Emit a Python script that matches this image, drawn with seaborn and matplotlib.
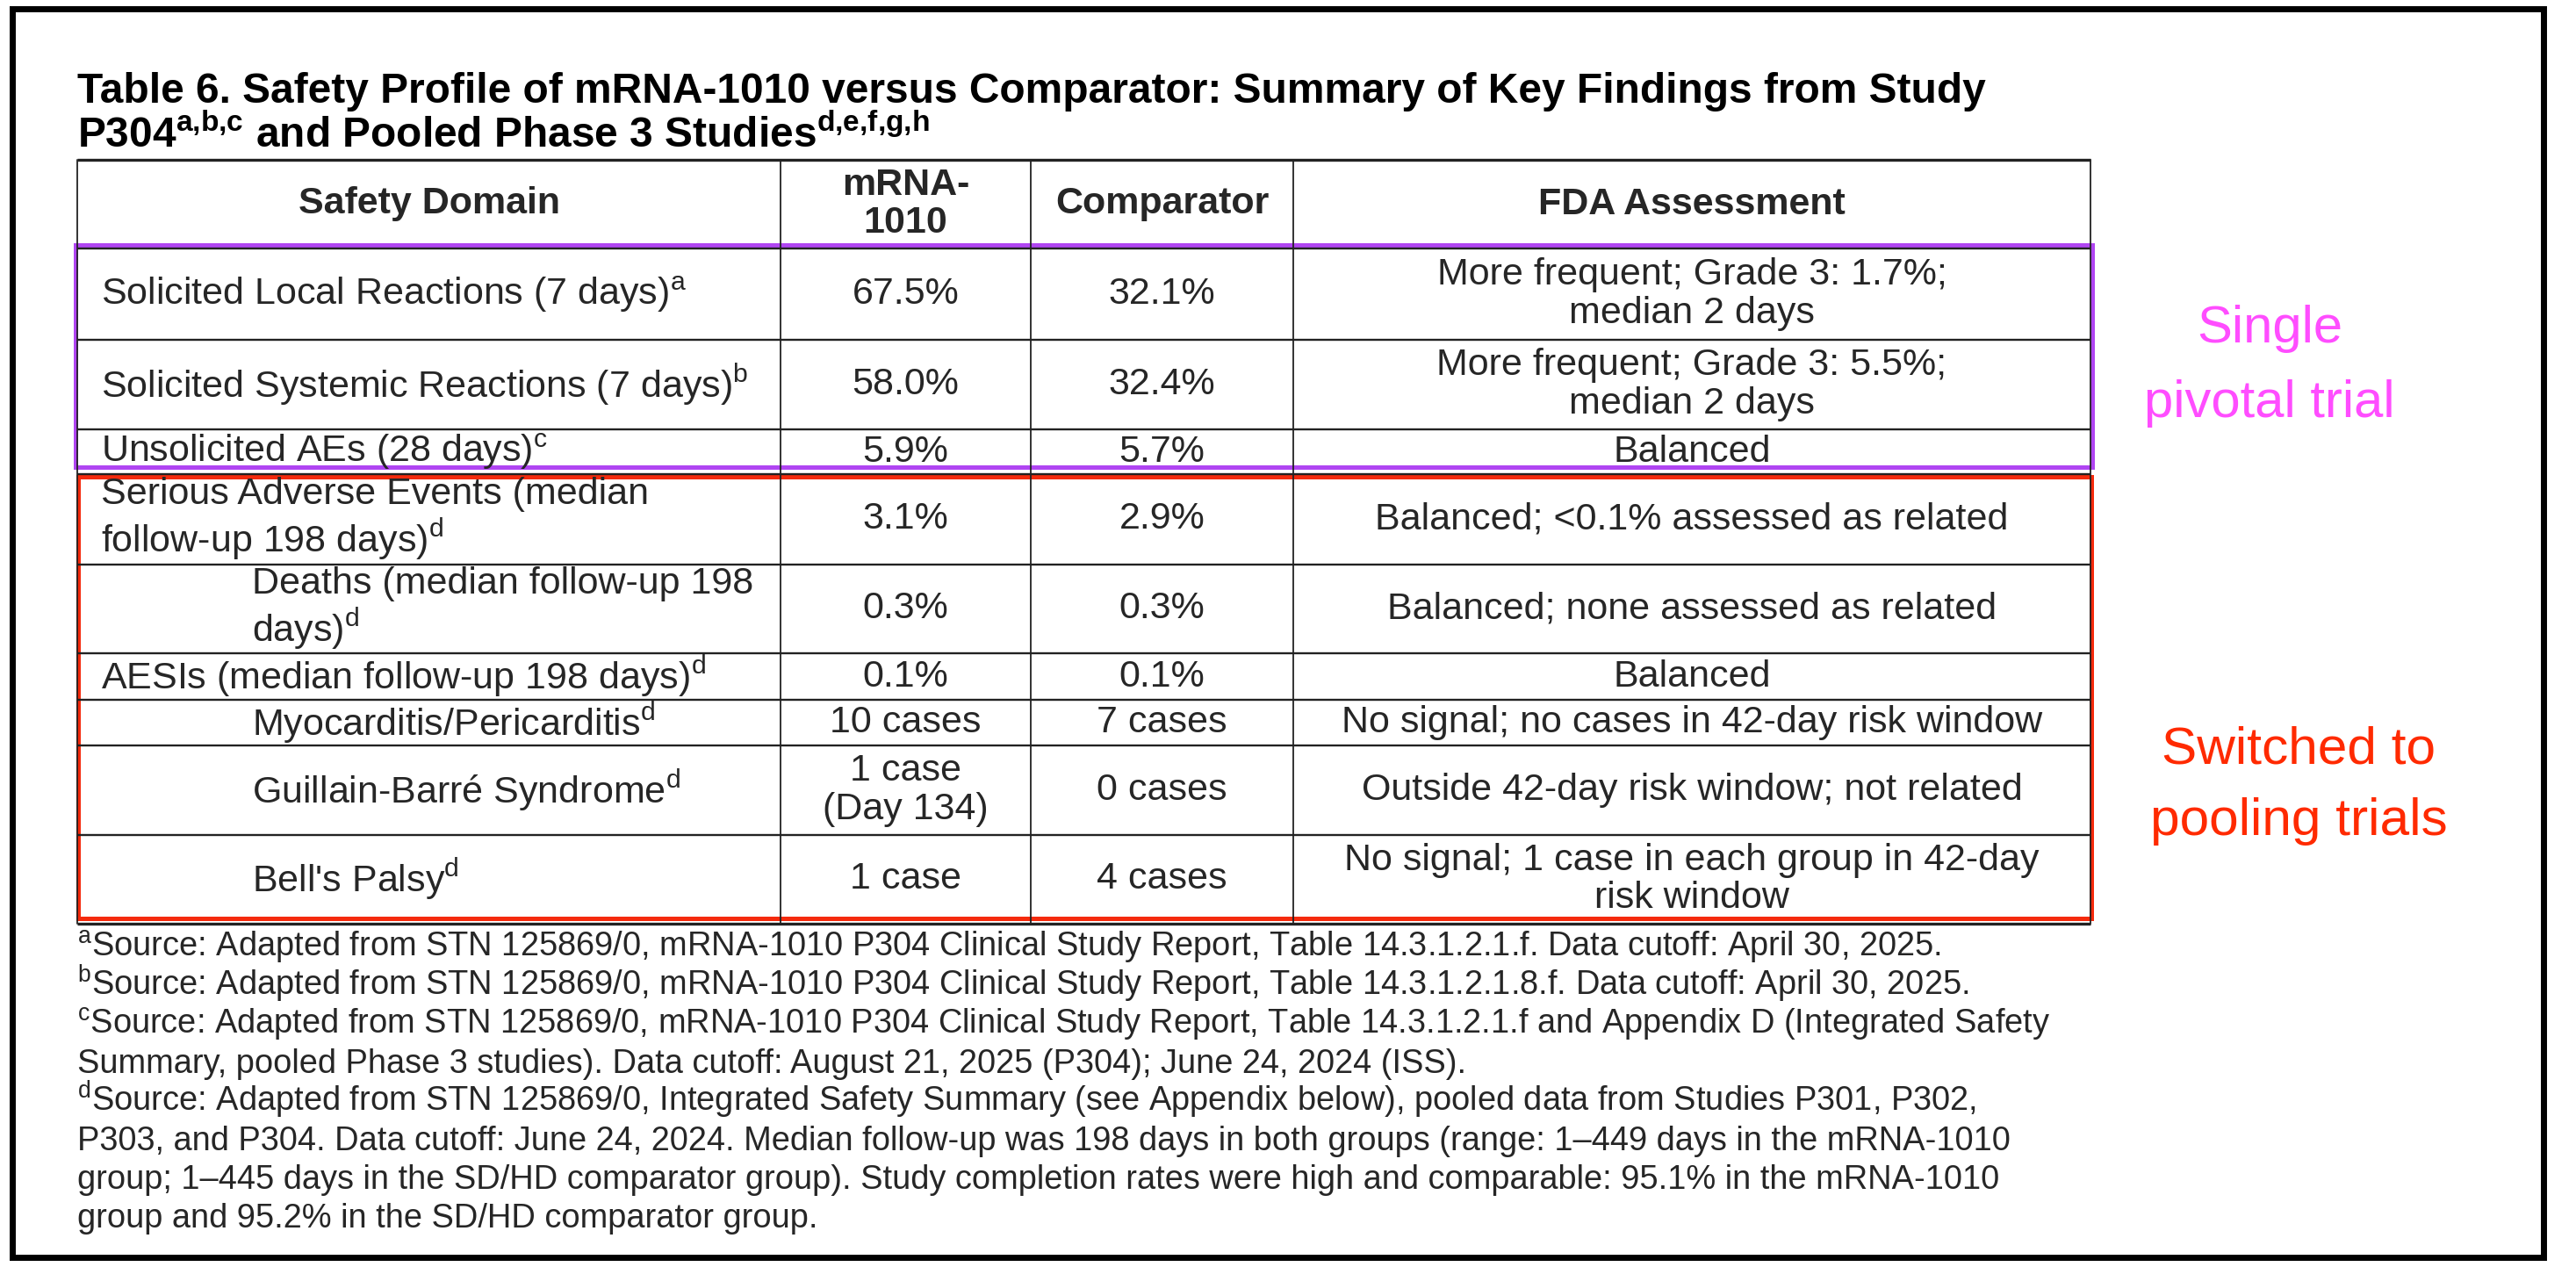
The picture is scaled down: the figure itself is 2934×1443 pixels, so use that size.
import matplotlib
matplotlib.use("Agg")
import matplotlib.pyplot as plt
from matplotlib.patches import Rectangle
import seaborn as sns

# table content
title_lines = [
    "Table 6. Safety Profile of mRNA-1010 versus Comparator: Summary of Key Findings from Study",
    r"P304$^{\mathbf{a{,}b{,}c}}$ and Pooled Phase 3 Studies$^{\mathbf{d{,}e{,}f{,}g{,}h}}$",
]
headers = ["Safety Domain", "mRNA-\n1010", "Comparator", "FDA Assessment"]

domains = [
    "Solicited Local Reactions (7 days)",
    "Solicited Systemic Reactions (7 days)",
    "Unsolicited AEs (28 days)",
    "Serious Adverse Events (median\nfollow-up 198 days)",
    "Deaths (median follow-up 198\ndays)",
    "AESIs (median follow-up 198 days)",
    "Myocarditis/Pericarditis",
    "Guillain-Barré Syndrome",
    "Bell's Palsy",
]
domain_notes = ["a", "b", "c", "d", "d", "d", "d", "d", "d"]
indented = [False, False, False, False, True, False, True, True, True]
mrna_1010 = ["67.5%", "58.0%", "5.9%", "3.1%", "0.3%", "0.1%", "10 cases",
             "1 case\n(Day 134)", "1 case"]
comparator = ["32.1%", "32.4%", "5.7%", "2.9%", "0.3%", "0.1%", "7 cases",
              "0 cases", "4 cases"]
fda_assessment = [
    "More frequent; Grade 3: 1.7%;\nmedian 2 days",
    "More frequent; Grade 3: 5.5%;\nmedian 2 days",
    "Balanced",
    "Balanced; <0.1% assessed as related",
    "Balanced; none assessed as related",
    "Balanced",
    "No signal; no cases in 42-day risk window",
    "Outside 42-day risk window; not related",
    "No signal; 1 case in each group in 42-day\nrisk window",
]

footnotes = [
    r"$^{\mathrm{a}}$Source: Adapted from STN 125869/0, mRNA-1010 P304 Clinical Study Report, Table 14.3.1.2.1.f. Data cutoff: April 30, 2025.",
    r"$^{\mathrm{b}}$Source: Adapted from STN 125869/0, mRNA-1010 P304 Clinical Study Report, Table 14.3.1.2.1.8.f. Data cutoff: April 30, 2025.",
    r"$^{\mathrm{c}}$Source: Adapted from STN 125869/0, mRNA-1010 P304 Clinical Study Report, Table 14.3.1.2.1.f and Appendix D (Integrated Safety",
    "Summary, pooled Phase 3 studies). Data cutoff: August 21, 2025 (P304); June 24, 2024 (ISS).",
    r"$^{\mathrm{d}}$Source: Adapted from STN 125869/0, Integrated Safety Summary (see Appendix below), pooled data from Studies P301, P302,",
    "P303, and P304. Data cutoff: June 24, 2024. Median follow-up was 198 days in both groups (range: 1–449 days in the mRNA-1010",
    "group; 1–445 days in the SD/HD comparator group). Study completion rates were high and comparable: 95.1% in the mRNA-1010",
    "group and 95.2% in the SD/HD comparator group.",
]

single_label = ["Single", "pivotal trial"]
pooled_label = ["Switched to", "pooling trials"]

# layout in pixels
W, H = 2934, 1443
col_edges = [88, 889, 1174, 1473, 2381]
row_edges = [182, 283, 387, 489, 540, 643, 744, 797, 849, 951, 1052]

sns.set_theme(style="white")
plt.rcParams["font.family"] = ["Liberation Sans", "DejaVu Sans"]
plt.rcParams["mathtext.fontset"] = "custom"
plt.rcParams["mathtext.rm"] = "Liberation Sans"
plt.rcParams["mathtext.bf"] = "Liberation Sans:bold"

fig = plt.figure(figsize=(W / 100, H / 100), dpi=100)
fig.patch.set_facecolor("white")
ax = fig.add_axes([0, 0, 1, 1])
ax.set_xlim(0, W)
ax.set_ylim(H, 0)
ax.axis("off")

# outer frame
ax.add_patch(Rectangle((14, 10), 2883, 1422, fill=False, edgecolor="black", lw=5))

# title
for i, line in enumerate(title_lines):
    ax.text(88, 117 + i * 51, line, fontsize=34.5, fontweight="bold",
            ha="left", va="baseline", color="black")

# grid
grid_c = "#222222"
for j, y in enumerate(row_edges):
    lw = 2.4 if j in (0, len(row_edges) - 1) else 1.7
    ax.plot([col_edges[0], col_edges[-1]], [y, y], color=grid_c, lw=lw,
            solid_capstyle="butt")
for x in col_edges:
    ax.plot([x, x], [row_edges[0], row_edges[-1]], color=grid_c, lw=1.3)

body_fs = 31
ls = 1.12
centers = [(col_edges[k] + col_edges[k + 1]) / 2 for k in range(4)]

# header
hy = (row_edges[0] + row_edges[1]) / 2
for k, h in enumerate(headers):
    ax.text(centers[k], hy, h, fontsize=body_fs, fontweight="bold",
            ha="center", va="center", linespacing=ls)

# rows
for i in range(len(domains)):
    yc = (row_edges[i + 1] + row_edges[i + 2]) / 2
    x0 = 287 if indented[i] else 115
    label = domains[i] + r"$^{\mathrm{" + domain_notes[i] + "}}$"
    ax.text(x0, yc, label, fontsize=body_fs, ha="left", va="center",
            multialignment="left", linespacing=ls)
    ax.text(centers[1], yc, mrna_1010[i], fontsize=body_fs, ha="center",
            va="center", linespacing=ls)
    ax.text(centers[2], yc, comparator[i], fontsize=body_fs, ha="center",
            va="center", linespacing=ls)
    ax.text(centers[3], yc, fda_assessment[i], fontsize=body_fs, ha="center",
            va="center", linespacing=ls)

# highlight boxes
purple = "#B045F2"
red = "#F52A0C"
ax.add_patch(Rectangle((86, 279), 2297, 253, fill=False, edgecolor=purple, lw=3.6))
ax.add_patch(Rectangle((89, 543), 2293, 503, fill=False, edgecolor=red, lw=3.6))

ax.text(2585, 390, single_label[0], fontsize=43, color="#FF4DFF",
        ha="center", va="baseline")
ax.text(2585, 475, single_label[1], fontsize=43, color="#FF4DFF",
        ha="center", va="baseline")
ax.text(2618, 869, pooled_label[0], fontsize=43.5, color="#FF2A00",
        ha="center", va="baseline")
ax.text(2618, 951, pooled_label[1], fontsize=43.5, color="#FF2A00",
        ha="center", va="baseline")

# footnotes
for i, line in enumerate(footnotes):
    ax.text(88, 1090 + i * 44, line, fontsize=27.4, ha="left", va="baseline")

fig.savefig("out.png", dpi=100, facecolor="white")
